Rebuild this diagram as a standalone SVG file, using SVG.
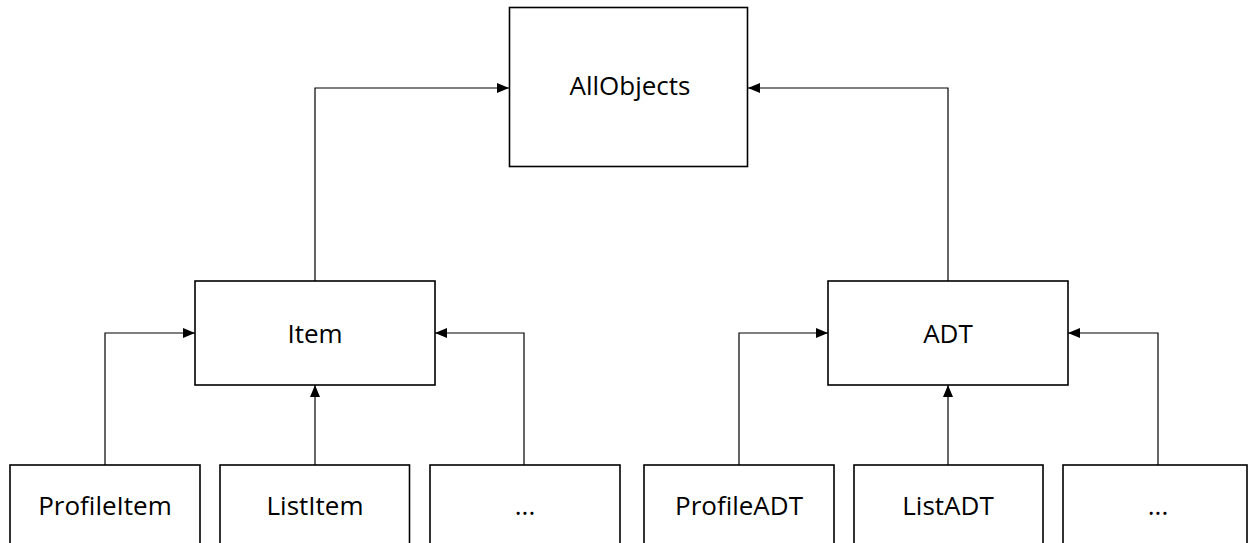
<svg xmlns="http://www.w3.org/2000/svg" width="1250" height="543" viewBox="0 0 1250 543">
  <style>
    .box { fill: #ffffff; stroke: #000000; stroke-width: 1.6; }
    .lbl { font-family: "Open Sans", "Liberation Sans", sans-serif; font-size: 26px; fill: #000000; text-anchor: middle; }
    .conn { fill: none; stroke: #000000; stroke-width: 1.2; marker-end: url(#arrow); }
  </style>
  <defs>
    <marker id="arrow" viewBox="0 0 12 10" refX="12" refY="5" markerWidth="12" markerHeight="10" markerUnits="userSpaceOnUse" orient="auto">
      <path d="M0,0 L12,5 L0,10 Z" fill="#000000"/>
    </marker>
  </defs>

  <g id="connectors">
    <path class="conn" d="M315,281 V88 H509"/>
    <path class="conn" d="M948,281 V88 H748"/>
    <path class="conn" d="M105,465 V333 H195"/>
    <path class="conn" d="M315,465 V385"/>
    <path class="conn" d="M524,465 V333 H435"/>
    <path class="conn" d="M739,465 V333 H828"/>
    <path class="conn" d="M948,465 V385"/>
    <path class="conn" d="M1158,465 V333 H1068"/>
  </g>

  <g id="allobjects">
    <rect class="box" x="509.5" y="7.5" width="238" height="159"/>
    <text class="lbl" x="630" y="95">AllObjects</text>
  </g>
  <g id="item">
    <rect class="box" x="195" y="281" width="240" height="104"/>
    <text class="lbl" x="315" y="343">Item</text>
  </g>
  <g id="adt">
    <rect class="box" x="828" y="281" width="240" height="104"/>
    <text class="lbl" x="948" y="343">ADT</text>
  </g>
  <g id="profileitem">
    <rect class="box" x="10" y="465" width="190" height="90"/>
    <text class="lbl" x="105" y="515">ProfileItem</text>
  </g>
  <g id="listitem">
    <rect class="box" x="220" y="465" width="189.5" height="90"/>
    <text class="lbl" x="315" y="515">ListItem</text>
  </g>
  <g id="item-more">
    <rect class="box" x="430" y="465" width="190" height="90"/>
    <text class="lbl" x="525" y="515">...</text>
  </g>
  <g id="profileadt">
    <rect class="box" x="644" y="465" width="190" height="90"/>
    <text class="lbl" x="739" y="515">ProfileADT</text>
  </g>
  <g id="listadt">
    <rect class="box" x="854" y="465" width="189" height="90"/>
    <text class="lbl" x="948" y="515">ListADT</text>
  </g>
  <g id="adt-more">
    <rect class="box" x="1063" y="465" width="184" height="90"/>
    <text class="lbl" x="1158" y="515">...</text>
  </g>
</svg>
